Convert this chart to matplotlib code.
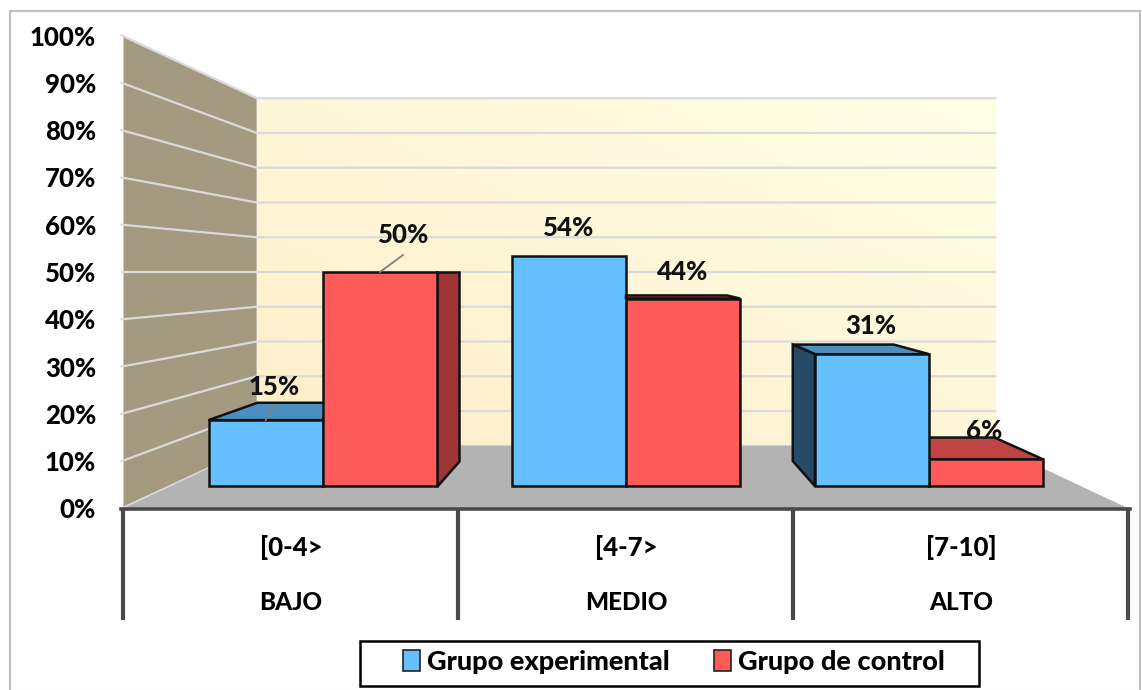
import numpy as np
import matplotlib
matplotlib.use("Agg")
import matplotlib.pyplot as plt
from matplotlib.patches import Polygon, Rectangle, Patch

plt.rcParams['font.family'] = ['Lato', 'DejaVu Sans']
plt.rcParams['font.weight'] = 900

rangos = ["[0-4>", "[4-7>", "[7-10]"]
niveles = ["BAJO", "MEDIO", "ALTO"]
experimental = [15.4, 53.8, 30.8]
control = [50.0, 43.8, 6.2]
y_ticks = list(range(0, 101, 10))
series_names = ["Grupo experimental", "Grupo de control"]

# perspective of the chart box, in figure pixels
vp_x, vp_y = 626, 272
half_width = 502.5
px_per_pct = 4.73
s_wall = 0.735
s_front = 0.905
s_back = 0.799
bar_w = 0.377

blue = "#66BFFF"
red = "#FF5A5A"
blue_top, blue_side = "#4A8FC0", "#264B68"
red_top, red_side = "#BF4545", "#9E3636"
grid_c = "#DADADA"
axis_c = "#4A4A4A"

# label offset from the middle of the bar's front top edge
label_off = {(0, 0): (8, -33), (0, 1): (24, -37),
             (1, 0): (0, -28), (1, 1): (-1, -27),
             (2, 0): (-1, -28), (2, 1): (-2, -28)}


def proj(x, v, s):
    # x in category units (0..3), v in percent, s = depth scale
    px = vp_x + s * (x - 1.5) * (2 * half_width / 3)
    py = vp_y + s * (50 - v) * px_per_pct
    return px, py


fig = plt.figure(figsize=(11.42, 6.9), dpi=100)
ax = fig.add_axes([0, 0, 1, 1])

# back wall with its soft gradient
bl = proj(0, 0, s_wall)
tr = proj(3, 100, s_wall)
gx, gy = np.meshgrid(np.linspace(0, 1, 200), np.linspace(0, 1, 100))
g = np.clip((gx + gy) / 2, 0, 1)[..., None]
c0 = np.array([254, 238, 201]) / 255
c1 = np.array([255, 255, 230]) / 255
ax.imshow(c0 + (c1 - c0) * g, extent=[bl[0], tr[0], bl[1], tr[1]],
          origin='lower', aspect='auto', zorder=1)

# side wall
ax.add_patch(Polygon([proj(0, 0, 1), proj(0, 100, 1), proj(0, 100, s_wall), proj(0, 0, s_wall)],
                     fc="#A39A7F", ec="none", zorder=2))

# grid
for t in y_ticks:
    p0, p1, p2 = proj(0, t, 1), proj(0, t, s_wall), proj(3, t, s_wall)
    ax.plot([p0[0] - 2, p1[0], p2[0]], [p0[1], p1[1], p2[1]], color=grid_c, lw=1.6, zorder=3)

# floor
ax.add_patch(Polygon([proj(0, 0, 1), proj(3, 0, 1), proj(3, 0, s_wall), proj(0, 0, s_wall)],
                     fc="#B3B3B3", ec="none", zorder=4))


def draw_bar(x0, x1, v, fc, top_c, side_c, z):
    e = dict(ec="#111111", lw=1.8, joinstyle='miter', zorder=z)
    if v < 50:
        ax.add_patch(Polygon([proj(x0, v, s_front), proj(x1, v, s_front),
                              proj(x1, v, s_back), proj(x0, v, s_back)], fc=top_c, **e))
    if x1 < 1.5:
        ax.add_patch(Polygon([proj(x1, 0, s_front), proj(x1, v, s_front),
                              proj(x1, v, s_back), proj(x1, 0, s_back)], fc=side_c, **e))
    if x0 > 1.5:
        ax.add_patch(Polygon([proj(x0, 0, s_front), proj(x0, v, s_front),
                              proj(x0, v, s_back), proj(x0, 0, s_back)], fc=side_c, **e))
    ax.add_patch(Polygon([proj(x0, 0, s_front), proj(x1, 0, s_front),
                          proj(x1, v, s_front), proj(x0, v, s_front)], fc=fc, **e))


for i in range(3):
    c = i + 0.5
    bars = [(c - bar_w, c, experimental[i], blue, blue_top, blue_side),
            (c, c + bar_w, control[i], red, red_top, red_side)]
    # paint the bar furthest from the centre first
    order = [1, 0] if i == 2 else [0, 1]
    for n, j in enumerate(order):
        draw_bar(*bars[j], 5 + i + n * 0.1)
    for j in range(2):
        x0, x1, v = bars[j][:3]
        fx, fy = proj((x0 + x1) / 2, v, s_front)
        ox, oy = label_off[(i, j)]
        ax.text(fx + ox, fy + oy, f"{v:.0f}%", ha='center', va='center', fontsize=18.5,
                color="#111111", zorder=12)

# leader lines of the two labels that sit away from their bars
for x_mid, v, dx, dy in [(0.5 - bar_w / 2, experimental[0], 7, -14),
                         (0.5 + bar_w / 2, control[0], 23, -17)]:
    fx, fy = proj(x_mid, v, s_front)
    ax.plot([fx, fx + dx], [fy, fy + dy], color="#7F7F7F", lw=1.3, zorder=11)

# axes
ax.plot([proj(0, 0, 1)[0] - 3, proj(3, 0, 1)[0] + 1], [509, 509], color=axis_c, lw=2.6, zorder=10)
for i in range(4):
    bx = proj(i, 0, 1)[0] - 0.5
    ax.plot([bx, bx], [509, 620], color=axis_c, lw=3, solid_capstyle='butt', zorder=10)

for t in y_ticks:
    ax.text(96, proj(0, t, 1)[1] + 2, f"{t}%", ha='right', va='center', fontsize=18.5, color="black")
for i in range(3):
    cx = proj(i + 0.5, 0, 1)[0]
    ax.text(cx, 548, rangos[i], ha='center', va='center', fontsize=18.5, color="black")
    ax.text(cx, 602, niveles[i], ha='center', va='center', fontsize=17.5, color="black")

# outer border
ax.add_patch(Rectangle((9.5, 10.5), 1130, 680, fc="none", ec="#BFBFBF", lw=1.5, zorder=0))

# legend box is wider than its content, so it is drawn separately
ax.add_patch(Rectangle((359.5, 640.5), 619, 45, fc="white", ec="black", lw=1.8, zorder=12))
handles = [Patch(fc=blue, ec="#222222", lw=1.2), Patch(fc=red, ec="#222222", lw=1.2)]
leg = ax.legend(handles, series_names, ncols=2, loc='center', bbox_to_anchor=(674, 662),
                bbox_transform=ax.transData, fontsize=19.5, frameon=False,
                handlelength=0.62, handleheight=0.8, handletextpad=0.25,
                columnspacing=1.65, borderpad=0, borderaxespad=0)
leg.set_zorder(13)

ax.set_xlim(0, 1142)
ax.set_ylim(690, 0)
ax.axis('off')

fig.savefig("out.png", dpi=100)
